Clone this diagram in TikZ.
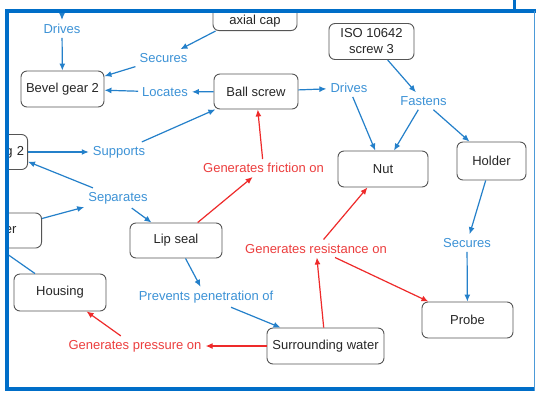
\documentclass[tikz,border=0pt]{standalone}
\usepackage{fontspec}
\setmainfont{Liberation Sans}
\usepackage{tikz}
\usetikzlibrary{arrows.meta}
\definecolor{linkblue}{RGB}{36,128,202}
\definecolor{textblue}{RGB}{60,146,214}
\definecolor{linkred}{RGB}{238,42,42}
\definecolor{textred}{RGB}{236,62,62}
\definecolor{frameblue}{RGB}{0,110,200}
\definecolor{boxgray}{RGB}{85,85,85}

\begin{document}
\begin{tikzpicture}[x=1pt,y=-1pt,
  concept/.style={draw=boxgray, line width=0.9pt, rounded corners=6pt, fill=white,
    minimum height=36pt, inner xsep=5pt, text=black!85, font=\fontsize{13}{16}\selectfont},
  bluelabel/.style={text=textblue, inner sep=4pt, font=\fontsize{13}{16}\selectfont},
  redlabel/.style={text=textred, inner sep=4pt, font=\fontsize{13}{16}\selectfont},
  bluelink/.style={draw=linkblue, line width=1.2pt, -{Latex[length=7pt,width=6pt]}},
  redlink/.style={draw=linkred, line width=1.2pt, -{Latex[length=7pt,width=6pt]}},
  plainlink/.style={draw=linkblue, line width=1.2pt}]
\useasboundingbox [fill=white] (0,0) rectangle (536,392);

\begin{scope}
\clip (7,11) rectangle (534,389);

\node [concept, minimum width=84pt, minimum height=0pt, anchor=south, text height=30pt, text depth=3pt, inner ysep=3.5pt] (cap) at (255,31) {axial cap};
\node [concept, minimum width=83pt] (bevel) at (62.5,89) {Bevel gear 2};
\node [concept, minimum width=84pt, minimum height=35pt] (ball) at (256,91.5) {Ball screw};
\node [concept, minimum width=85pt, align=center] (iso) at (371.5,41.5) {ISO 10642\\screw 3};
\node [concept, minimum width=90pt] (nut) at (383,169) {Nut};
\node [concept, minimum width=69pt, minimum height=38pt] (holder) at (491.5,161) {Holder};
\node [concept, minimum width=92pt, minimum height=35pt] (lip) at (176,240.5) {Lip seal};
\node [concept, minimum width=92pt, minimum height=37pt] (hous) at (60,292.5) {Housing};
\node [concept, minimum width=117pt] (water) at (325.5,346) {Surrounding water};
\node [concept, minimum width=91pt] (probe) at (467.5,320) {Probe};
\node [concept, minimum height=35pt, anchor=east, text width=40pt, align=right, inner xsep=3.5pt] (gtwo) at (28,152) {g 2};
\node [concept, minimum height=35pt, anchor=east, text width=50pt, align=right, inner xsep=25pt] (er) at (42,230.5) {er};

\node [bluelabel] (drA) at (62,29) {Drives};
\node [bluelabel] (secA) at (163.5,58) {Secures};
\node [bluelabel] (loc) at (165,92) {Locates};
\node [bluelabel] (drB) at (349,88) {Drives};
\node [bluelabel] (fast) at (423.5,101) {Fastens};
\node [bluelabel] (sup) at (119,152) {Supports};
\node [bluelabel] (sep) at (118,198) {Separates};
\node [bluelabel] (secB) at (467,243) {Secures};
\node [bluelabel] (prev) at (206,297) {Prevents penetration of};
\node [redlabel] (fric) at (263.5,168) {Generates friction on};
\node [redlabel] (resi) at (316,248.5) {Generates resistance on};
\node [redlabel] (pres) at (135,346) {Generates pressure on};

\coordinate (offT) at (62,-10);
\coordinate (offL) at (-10,242);

\foreach \a/\b in {offT/drA, drA/bevel, cap/secA, secA/bevel, ball/loc, loc/bevel,
  ball/drB, drB/nut, iso/fast, fast/nut, fast/holder, holder/secB, secB/probe,
  sup/ball, gtwo/sup, sep/gtwo, sep/lip, lip/prev, prev/water}
  \draw [bluelink] (\a) -- (\b);
\draw [bluelink] ([yshift=12pt]er.east) -- (sep);
\draw [plainlink] ([xshift=-25pt]hous.north) -- (offL);

\foreach \a/\b in {lip/fric, fric/ball, water/resi, resi/nut, resi/probe, water/pres, pres/hous}
  \draw [redlink] (\a) -- (\b);
\end{scope}

\draw [frameblue, line width=3.5pt] (534,389) -- (7,389) -- (7,11) -- (536,11);
\draw [frameblue, line width=3pt] (514,0) -- (514,11);
\draw [frameblue!70, line width=1pt] (534.5,11) -- (534.5,391);
\end{tikzpicture}
\end{document}
